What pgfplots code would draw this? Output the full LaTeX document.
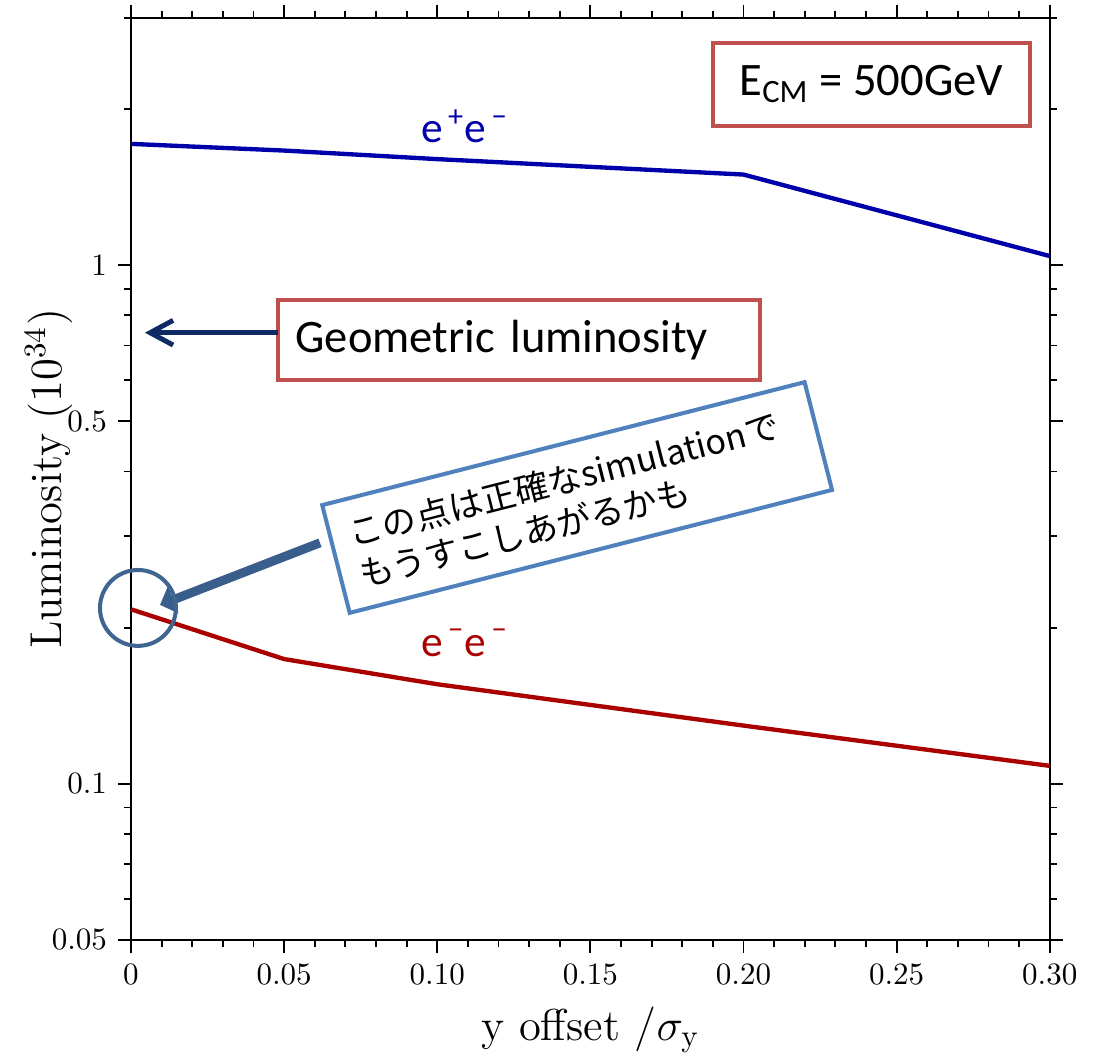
\documentclass[border=0pt]{standalone}
\usepackage{fontspec}
\usepackage{pgfplots}
\pgfplotsset{compat=1.18}
\usetikzlibrary{arrows.meta}
\newfontfamily\cjk{Noto Sans CJK JP}
\newfontfamily\carlito{Carlito}
\definecolor{lineblue}{HTML}{0000AA}
\definecolor{linered}{HTML}{AA0000}
\definecolor{boxred}{HTML}{C0504D}
\definecolor{boxblue}{HTML}{4F81BD}
\definecolor{navy}{HTML}{0F2B63}
\definecolor{arrowblue}{HTML}{3A5E8C}
\definecolor{circblue}{HTML}{3F6591}

\begin{document}
\begin{tikzpicture}
\begin{axis}[
    scale only axis,
    width=104.1mm, height=104.5mm,
    xmin=0, xmax=0.3,
    ymode=log, ymin=0.05, ymax=3,
    xtick={0,0.05,0.1,0.15,0.2,0.25,0.3},
    xticklabels={0,0.05,0.10,0.15,0.20,0.25,0.30},
    minor x tick num=4,
    ytick={0.05,0.1,0.5,1},
    yticklabels={0.05,0.1,0.5,1},
    minor ytick={0.06,0.07,0.08,0.09,0.2,0.3,0.4,0.6,0.7,0.8,0.9,2,3},
    tick align=outside,
    major tick length=4.2pt, minor tick length=2.3pt,
    every tick/.style={black, line width=0.6pt},
    axis line style={line width=0.65pt},
    tick label style={font=\normalsize},
    xlabel={y offset /$\sigma_{\mathrm{y}}$},
    ylabel={Luminosity (10\textsuperscript{34})},
    label style={font=\Large},
    xlabel style={at={(rel axis cs:0.5,-0.0976)}, anchor=center},
    ylabel style={at={(rel axis cs:-0.09,0.5)}, anchor=center},
    clip=false,
]
% e+e- and e-e- luminosity
\addplot[lineblue, line width=1.4pt] coordinates {
    (0,1.713)(0.05,1.663)(0.10,1.601)(0.20,1.495)(0.30,1.041)};
\addplot[linered, line width=1.4pt] coordinates {
    (0,0.217)(0.05,0.174)(0.10,0.1556)(0.20,0.1295)(0.30,0.1083)};

\node[text=lineblue, font=\carlito\fontsize{14}{17}\selectfont]
    at (rel axis cs:0.3634,0.8818) {e\textsuperscript{\,+}e\textsuperscript{\,−}};
\node[text=linered, font=\carlito\fontsize{14}{17}\selectfont]
    at (rel axis cs:0.3634,0.3221) {e\textsuperscript{\,−}e\textsuperscript{\,−}};

\node[draw=boxred, line width=1.3pt, minimum width=35.9mm, minimum height=9.4mm,
      font=\carlito\fontsize{15}{18}\selectfont]
    at (rel axis cs:0.8058,0.9279) {E\textsubscript{CM} = 500GeV};

\node[draw=boxred, line width=1.3pt, minimum width=54.6mm, minimum height=9.06mm,
      text width=50.6mm, inner xsep=2mm, align=left,
      font=\carlito\fontsize{15}{18}\selectfont]
    at (rel axis cs:0.4222,0.6508) {Geometric luminosity};
\draw[navy, line width=1.6pt, -{Straight Barb[length=2.6mm,width=2.8mm]}]
    (rel axis cs:0.160,0.6584) -- (rel axis cs:0.0152,0.6584);

\node[draw=boxblue, fill=white, line width=1.3pt, rotate=14.3,
      minimum width=56.1mm, minimum height=12.6mm, text width=52mm,
      inner xsep=2.2mm, align=left, font=\cjk\fontsize{11}{13.5}\selectfont]
    at (rel axis cs:0.4856,0.4797) {この点は正確なsimulationで\\もうすこしあがるかも};
\draw[arrowblue, line width=2.9pt, -{Triangle[length=1.6mm,width=3.2mm]}]
    (rel axis cs:0.2057,0.4306) -- (rel axis cs:0.0316,0.3633);
\draw[circblue, line width=1.3pt] (rel axis cs:0.0076,0.360) circle[radius=4.3mm];
\end{axis}
\pgfresetboundingbox
\path (current axis.south west) ++(-14.84mm,-13.71mm) rectangle ++(123.84mm,120.21mm);
\end{tikzpicture}
\end{document}
